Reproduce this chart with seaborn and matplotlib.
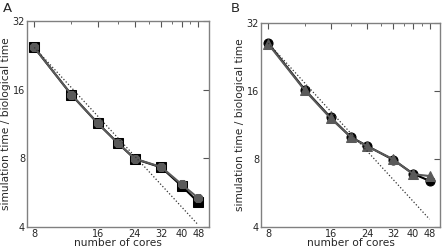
import numpy as np
import pandas as pd
import matplotlib
matplotlib.use("Agg")
import matplotlib.pyplot as plt
import seaborn as sns
from matplotlib.ticker import FixedLocator, NullFormatter, FixedFormatter

cores = [8, 12, 16, 20, 24, 32, 40, 48]

# panel A
a_black = [24.5, 15.2, 11.4, 9.3, 7.95, 7.3, 6.05, 5.13]
a_gray = [24.5, 15.2, 11.4, 9.3, 7.97, 7.33, 6.15, 5.35]
a_ideal = [24.5, 4.08]

# panel B
b_black = [26.0, 16.2, 12.2, 10.0, 9.13, 7.94, 6.88, 6.40]
b_gray = [25.8, 16.1, 12.1, 10.0, 9.1, 7.98, 6.85, 6.72]
b_ideal = [26.0, 4.33]

ideal_x = [8, 48]
major_x = [8, 16, 24, 32, 40, 48]
minor_x = [12, 20, 28, 36, 44]
major_y = [4, 8, 16, 32]

sns.set_style("white")
plt.rcParams['font.family'] = ['DejaVu Sans']

fig = plt.figure(figsize=(4.45, 2.5), dpi=100)
ax_a = fig.add_axes([0.061, 0.092, 0.409, 0.824])
ax_b = fig.add_axes([0.587, 0.092, 0.402, 0.817])


def draw_panel(ax, black, gray, ideal, mk_black, mk_gray, label, label_x):
    df = pd.DataFrame({
        "cores": cores * 2,
        "ratio": black + gray,
        "run": ["black"] * len(cores) + ["gray"] * len(cores),
    })
    sns.lineplot(data=df, x="cores", y="ratio", hue="run", style="run",
                 palette={"black": "black", "gray": "#5a5a5a"},
                 markers={"black": mk_black, "gray": mk_gray},
                 dashes=False, markersize=6.5,
                 linewidth=1.5, legend=False, ax=ax)
    for line, c in zip(ax.get_lines(), ["black", "#5a5a5a"]):
        line.set_markeredgecolor(c)
    ax.plot(ideal_x, ideal, linestyle=":", color="#333333", linewidth=0.9)

    ax.set_xscale("log", base=2)
    ax.set_yscale("log", base=2)
    ax.set_xlim(7.4, 54)
    ax.set_ylim(4, 32)
    ax.xaxis.set_major_locator(FixedLocator(major_x))
    ax.xaxis.set_major_formatter(FixedFormatter([str(v) for v in major_x]))
    ax.xaxis.set_minor_locator(FixedLocator(minor_x))
    ax.xaxis.set_minor_formatter(NullFormatter())
    ax.yaxis.set_major_locator(FixedLocator(major_y))
    ax.yaxis.set_major_formatter(FixedFormatter([str(v) for v in major_y]))
    ax.yaxis.set_minor_locator(FixedLocator([]))
    ax.tick_params(which="both", direction="in", top=True, right=True,
                   labelsize=7, pad=1.5, color="#555555")
    ax.tick_params(which="major", length=4)
    ax.tick_params(which="minor", length=2)
    for s in ax.spines.values():
        s.set_color("#808080")
        s.set_linewidth(1.0)
    ax.set_xlabel("number of cores", fontsize=7.7, labelpad=-0.5)
    ax.set_ylabel("simulation time / biological time", fontsize=7.7, labelpad=1)
    fig.text(label_x, 0.99, label, fontsize=9.5, ha="left", va="top")


draw_panel(ax_a, a_black, a_gray, a_ideal, "s", "8", "A", 0.006)
draw_panel(ax_b, b_black, b_gray, b_ideal, "o", "^", "B", 0.519)

fig.savefig("out.png", dpi=100)
